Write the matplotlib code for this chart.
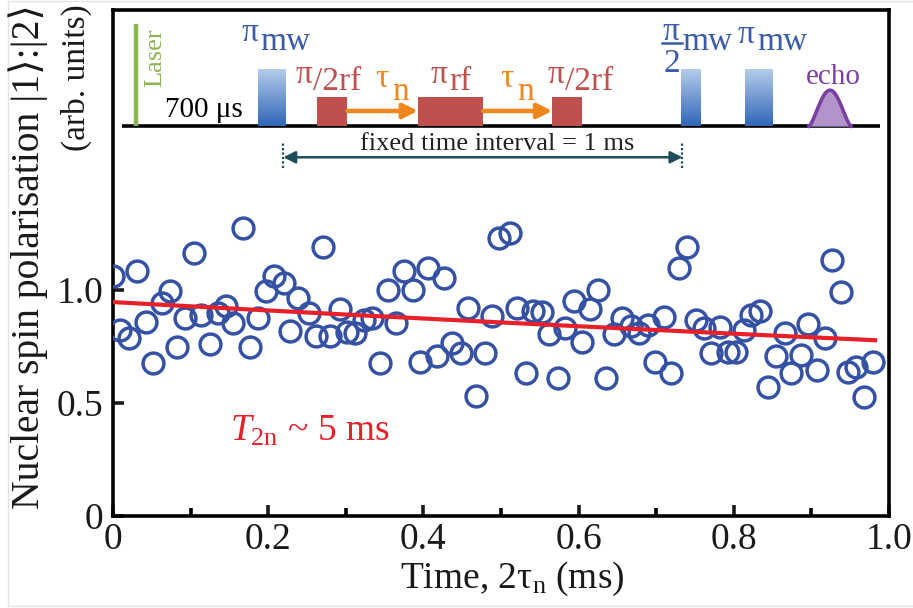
import numpy as np
import matplotlib
matplotlib.use("Agg")
import matplotlib.pyplot as plt
from matplotlib.colors import LinearSegmentedColormap
from matplotlib.lines import Line2D

plt.rcParams['font.family'] = ['Liberation Serif', 'DejaVu Serif']
plt.rcParams['mathtext.fontset'] = 'custom'
plt.rcParams['mathtext.rm'] = 'Liberation Serif'
plt.rcParams['mathtext.it'] = 'Liberation Serif:italic'

# Measured polarisation vs. free evolution time 2*tau_n (ms)
time_ms = [0.0, 0.009, 0.020, 0.031, 0.042, 0.052, 0.063, 0.074, 0.083, 0.093,
           0.104, 0.114, 0.125, 0.135, 0.145, 0.155, 0.167, 0.176, 0.187, 0.197,
           0.208, 0.220, 0.228, 0.239, 0.252, 0.261, 0.271, 0.280, 0.292, 0.302,
           0.312, 0.323, 0.334, 0.344, 0.355, 0.365, 0.375, 0.386, 0.395, 0.406,
           0.418, 0.427, 0.437, 0.448, 0.458, 0.468, 0.479, 0.489, 0.497, 0.511,
           0.521, 0.532, 0.541, 0.553, 0.562, 0.573, 0.583, 0.594, 0.605, 0.615,
           0.625, 0.635, 0.646, 0.656, 0.667, 0.678, 0.689, 0.698, 0.710, 0.719,
           0.729, 0.740, 0.751, 0.762, 0.771, 0.782, 0.792, 0.803, 0.813, 0.822,
           0.834, 0.844, 0.854, 0.866, 0.874, 0.886, 0.896, 0.907, 0.917, 0.927,
           0.938, 0.947, 0.957, 0.968, 0.979]
polarisation = [1.062, 0.823, 0.786, 1.085, 0.857, 0.677, 0.944, 0.996, 0.749, 0.877,
                1.165, 0.889, 0.760, 0.897, 0.931, 0.853, 1.276, 0.746, 0.877, 0.996,
                1.063, 1.030, 0.819, 0.966, 0.897, 0.796, 1.192, 0.796, 0.915, 0.815,
                0.808, 0.867, 0.875, 0.676, 1.000, 0.853, 1.084, 1.000, 0.683, 1.099,
                0.709, 1.052, 0.764, 0.720, 0.922, 0.532, 0.723, 0.885, 1.231, 1.251,
                0.919, 0.631, 0.907, 0.904, 0.804, 0.609, 0.831, 0.951, 0.771, 0.915,
                1.000, 0.609, 0.804, 0.875, 0.842, 0.808, 0.845, 0.683, 0.882, 0.631,
                1.096, 1.192, 0.867, 0.831, 0.720, 0.838, 0.727, 0.727, 0.823, 0.889,
                0.907, 0.572, 0.708, 0.811, 0.631, 0.712, 0.850, 0.646, 0.789, 1.133,
                0.990, 0.638, 0.661, 0.528, 0.683]

# Exponential decay model
fit_amplitude = 0.947
T2n_ms = 5.0
fit_t_end = 0.982

x_ticks = [0, 0.2, 0.4, 0.6, 0.8, 1.0]
x_tick_labels = ["0", "0.2", "0.4", "0.6", "0.8", "1.0"]
y_ticks = [0, 0.5, 1.0]
y_tick_labels = ["0", "0.5", "1.0"]

BLUE = '#3451a4'
RED = '#e8202a'
RF = '#c0504d'
MW = '#3b5cab'
ORANGE = '#f0861e'
TEAL = '#1d4e5a'
PURPLE = '#7b3fa0'
GREEN = '#8db552'

fig = plt.figure(figsize=(9.13, 6.08), dpi=100)

# faint outer frame
for xs, ys in [([8 / 913, 8 / 913], [2 / 608, 1 - 1 / 608]),
               ([8 / 913, 1], [2 / 608, 2 / 608]),
               ([8 / 913, 1], [1 - 1 / 608, 1 - 1 / 608])]:
    fig.add_artist(Line2D(xs, ys, color='#e4e4e4', lw=1.0))

ax = fig.add_axes([113 / 913, 92 / 608, 776 / 913, 506 / 608])
ax.set_xlim(0, 1.0)
ax.set_ylim(0, 2.24)

# data and fit
ax.plot(time_ms, polarisation, 'o', ms=15, mfc='none', mec=BLUE, mew=2.5, zorder=3)
t_fit = np.linspace(0, fit_t_end, 200)
ax.plot(t_fit, fit_amplitude * np.exp(-t_fit / T2n_ms), color=RED, lw=3, zorder=4)

ax.text(0.151, 0.336, r"$T_{\mathrm{2n}}$ ~ 5 ms", color=RED, fontsize=27,
        ha='left', va='baseline')

# axes styling
for s in ax.spines.values():
    s.set_linewidth(2.6)
ax.set_xticks(x_ticks)
ax.set_xticklabels(x_tick_labels)
ax.set_xticks([0.1, 0.3, 0.5, 0.7, 0.9], minor=True)
ax.set_yticks(y_ticks)
ax.set_yticklabels(y_tick_labels)
ax.tick_params(which='major', direction='in', length=8, width=2.6, labelsize=27,
               colors='#1a1a1a')
ax.tick_params(axis='x', which='major', pad=5)
ax.tick_params(axis='y', which='major', pad=7)
ax.tick_params(which='minor', direction='in', length=6, width=2.6)

fig.text(512 / 913, 1 - 588 / 608, r"Time, 2τ$_{\mathrm{n}}$ (ms)", fontsize=27,
         ha='center', va='baseline', color='#1a1a1a')
fig.text(28 / 913, 1 - 4 / 608, "Nuclear spin polarisation |1⟩:|2⟩", fontsize=28.5,
         rotation=90, ha='center', va='top', color='#1a1a1a')
fig.text(76 / 913, 1 - 4 / 608, "(arb. units)", fontsize=24,
         rotation=90, ha='center', va='top', color='#1a1a1a')

# ---- pulse-sequence schematic ----
base_y = 1.726
ax.plot([0.012, 0.988], [base_y, base_y], color='k', lw=2.6, solid_capstyle='butt')

# laser
ax.plot([0.030, 0.030], [base_y, 2.177], color=GREEN, lw=3.2, solid_capstyle='butt')
ax.text(0.054, 2.03, "Laser", color=GREEN, fontsize=19, rotation=90,
        ha='center', va='center')
ax.text(0.067, 1.765, "700 μs", color='k', fontsize=21, ha='left', va='baseline')

# microwave pulses with vertical gradient
mw_cmap = LinearSegmentedColormap.from_list('mw', ['#2f66b8', '#b4ccea'])
grad = np.linspace(0, 1, 100).reshape(-1, 1)
for x0, x1 in [(0.187, 0.223), (0.732, 0.757), (0.815, 0.850)]:
    ax.imshow(grad, extent=(x0, x1, base_y, 1.978), origin='lower', cmap=mw_cmap,
              aspect='auto', zorder=2)

# rf pulses
for x0, x1 in [(0.263, 0.302), (0.393, 0.477), (0.566, 0.605)]:
    ax.fill_between([x0, x1], base_y, 1.853, color=RF, lw=0, zorder=2)

# free evolution arrows
for x0, x1 in [(0.302, 0.393), (0.477, 0.566)]:
    ax.annotate('', xy=(x1, 1.793), xytext=(x0, 1.793),
                arrowprops=dict(arrowstyle='-|>', color=ORANGE, lw=3.2,
                                mutation_scale=22, shrinkA=0, shrinkB=0))

# echo
xe = np.linspace(0.897, 0.951, 80)
ye = base_y + 0.159 * np.sin(np.pi * (xe - 0.897) / (0.951 - 0.897)) ** 1.4
ax.fill_between(xe, base_y, ye, color='#b293cc', lw=0, zorder=2)
ax.plot(xe, ye, color=PURPLE, lw=2.6, zorder=2)

# pulse labels
fs = 24
ax.text(0.1652, 2.102, "π", color=MW, fontsize=fs, va='baseline')
ax.text(0.1897, 2.062, "mw", color=MW, fontsize=fs, va='baseline')
for xp, xs in [(0.2348, 0.2581), (0.560, 0.583)]:
    ax.text(xp, 1.916, "π", color=RF, fontsize=fs, va='baseline')
    ax.text(xs, 1.885, "/2rf", color=RF, fontsize=fs, va='baseline')
ax.text(0.409, 1.916, "π", color=RF, fontsize=fs, va='baseline')
ax.text(0.4335, 1.885, "rf", color=RF, fontsize=fs, va='baseline')
for xt, xn in [(0.338, 0.360), (0.499, 0.521)]:
    ax.text(xt, 1.898, "τ", color=ORANGE, fontsize=fs, va='baseline')
    ax.text(xn, 1.841, "n", color=ORANGE, fontsize=fs, va='baseline')
ax.text(0.708, 2.106, "π", color=MW, fontsize=fs, va='baseline')
ax.plot([0.707, 0.733], [2.093, 2.093], color=MW, lw=1.8)
ax.text(0.710, 1.965, "2", color=MW, fontsize=fs, va='baseline')
ax.text(0.734, 2.062, "mw", color=MW, fontsize=fs, va='baseline')
ax.text(0.805, 2.093, "π", color=MW, fontsize=fs, va='baseline')
ax.text(0.830, 2.062, "mw", color=MW, fontsize=fs, va='baseline')
ax.text(0.893, 1.912, "echo", color=PURPLE, fontsize=21, va='baseline')

# fixed time interval marker
ax.annotate('', xy=(0.7338, 1.588), xytext=(0.2194, 1.588),
            arrowprops=dict(arrowstyle='<|-|>', color=TEAL, lw=1.8,
                            mutation_scale=18, shrinkA=0, shrinkB=0))
for xv in (0.2194, 0.7338):
    ax.plot([xv, xv], [1.540, 1.650], color=TEAL, lw=1.6, ls=(0, (1, 1)))
ax.text(0.4951, 1.619, "fixed time interval = 1 ms", color='#222222', fontsize=19,
        ha='center', va='baseline')

fig.savefig("out.png", dpi=100)
